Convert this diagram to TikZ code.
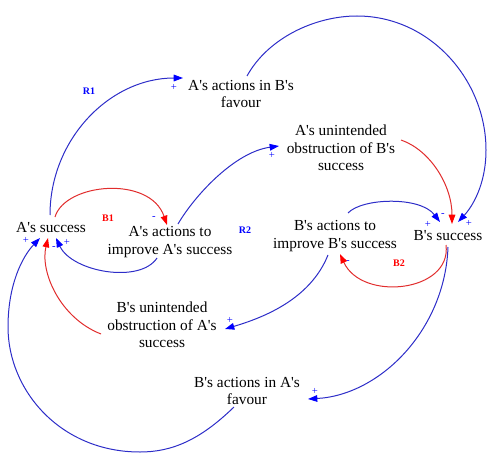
\documentclass[tikz,border=0pt]{standalone}
\usepackage{fontspec}
\setmainfont{Liberation Serif}[Ligatures=TeXOff]
\usetikzlibrary{arrows.meta,calc}
\definecolor{bline}{RGB}{45,45,200}
\definecolor{bhead}{RGB}{0,0,255}
\definecolor{rline}{RGB}{225,45,45}
\definecolor{rhead}{RGB}{255,0,0}
\begin{document}
\begin{tikzpicture}[x=0.75pt,y=-0.75pt,
  var/.style={align=center,inner sep=0pt,font=\fontsize{11.5}{13.2}\selectfont},
  loopname/.style={inner sep=0pt,font=\fontsize{7.5}{8}\selectfont\bfseries},
  sign/.style={inner sep=0pt,text=bhead,font=\fontsize{8}{9}\selectfont},
  blink/.style={draw=bline,line width=0.75pt,-{Triangle[length=7pt,width=5pt,color=bhead]}},
  rlink/.style={draw=rline,line width=0.75pt,-{Triangle[length=7pt,width=5pt,color=rhead]}}]
\useasboundingbox (0,0) rectangle (500,467);
% variables
\node[var] (as)  at (51,228)  {A's success};
\node[var] (aab) at (241,94)  {A's actions in B's\\favour};
\node[var] (auo) at (341,148) {A's unintended\\obstruction of B's\\success};
\node[var] (aai) at (170,242) {A's actions to\\improve A's success};
\node[var] (bai) at (335,236) {B's actions to\\improve B's success};
\node[var] (bs)  at (448,236) {B's success};
\node[var] (buo) at (162,325) {B's unintended\\obstruction of A's\\success};
\node[var] (bab) at (247,391) {B's actions in A's\\favour};
% loop names
\node[loopname,text=bhead] (r1) at (89,91)  {R1};
\node[loopname,text=rhead] (b1) at (108,218) {B1};
\node[loopname,text=bhead] (r2) at (245,230) {R2};
\node[loopname,text=rhead] (b2) at (399,263) {B2};
% signs
\node[sign] (s1)  at (174,87)  {+};
\node[sign] (s2)  at (272,155) {+};
\node[sign] (s3)  at (154,218) {-};
\node[sign] (s4)  at (26,240)  {+};
\node[sign] (s5)  at (54,248)  {-};
\node[sign] (s6)  at (67,242)  {+};
\node[sign] (s7)  at (428,224) {+};
\node[sign] (s8)  at (443,215) {-};
\node[sign] (s9)  at (469,223) {+};
\node[sign] (s10) at (348,262) {-};
\node[sign] (s11) at (230,320) {+};
\node[sign] (s12) at (315,391) {+};
% links
\draw[blink] ($(as)+(-1,-13)$) .. controls (50,139) and (110,78) .. ($(aab)+(-58,-16)$);
\draw[blink] ($(aab)+(6,-18)$) .. controls (268,38) and (315,16) .. (357,16)
   .. controls (430,16) and (486,80) .. (486,150)
   .. controls (486,185) and (472,207) .. ($(bs)+(10,-14)$);
\draw[blink] ($(aai)+(8,-18)$) .. controls (195,195) and (235,152) .. ($(auo)+(-62,-2)$);
\draw[rlink] ($(auo)+(60,-8)$) .. controls (430,150) and (452,185) .. ($(bs)+(4,-12)$);
\draw[rlink] ($(as)+(4,-11)$) .. controls (65,183) and (150,175) .. ($(aai)+(-3,-17)$);
\draw[blink] ($(aai)+(-13,16)$) .. controls (140,284) and (72,272) .. ($(as)+(5,10)$);
\draw[rlink] ($(buo)+(-61,9)$) .. controls (60,318) and (40,272) .. ($(as)+(-3,10)$);
\draw[blink] ($(bab)+(-13,16)$) .. controls (200,440) and (172,452) .. (140,452)
   .. controls (60,452) and (8,390) .. (8,327)
   .. controls (8,285) and (22,257) .. ($(as)+(-11,10)$);
\draw[blink] ($(bai)+(13,-23)$) .. controls (362,198) and (420,196) .. ($(bs)+(-8,-14)$);
\draw[rlink] ($(bs)+(-2,9)$) .. controls (452,292) and (362,302) .. ($(bai)+(5,18)$);
\draw[blink] ($(bai)+(-7,19)$) .. controls (310,300) and (262,318) .. ($(buo)+(63,4)$);
\draw[blink] ($(bs)+(0,11)$) .. controls (445,330) and (380,395) .. ($(bab)+(61,8)$);
\end{tikzpicture}
\end{document}
